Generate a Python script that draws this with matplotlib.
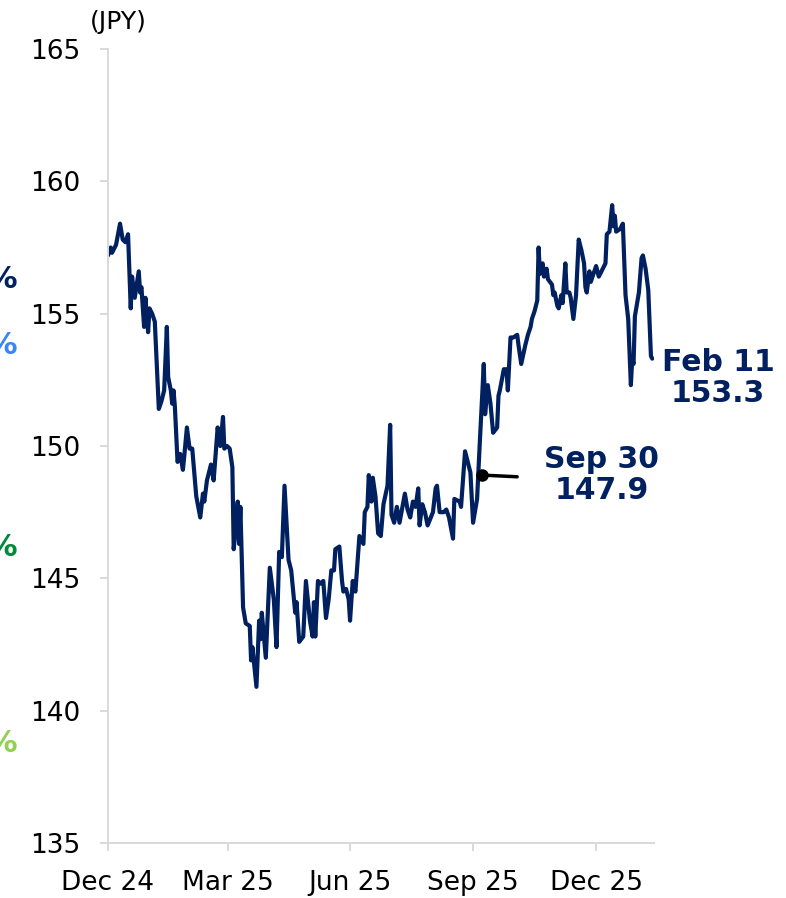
import pandas as pd
import matplotlib.pyplot as plt

# USD/JPY daily
dates = [
    "2024-12-31", "2025-01-02", "2025-01-03", "2025-01-06", "2025-01-09", "2025-01-11",
    "2025-01-13", "2025-01-15", "2025-01-17", "2025-01-18", "2025-01-19", "2025-01-20",
    "2025-01-23", "2025-01-24", "2025-01-25", "2025-01-27", "2025-01-28", "2025-01-29",
    "2025-01-30", "2025-01-31", "2025-02-02", "2025-02-04", "2025-02-07", "2025-02-09",
    "2025-02-11", "2025-02-13", "2025-02-14", "2025-02-16", "2025-02-17", "2025-02-18",
    "2025-02-19", "2025-02-21", "2025-02-23", "2025-02-25", "2025-02-26", "2025-02-28",
    "2025-03-02", "2025-03-04", "2025-03-07", "2025-03-10", "2025-03-12", "2025-03-13",
    "2025-03-15", "2025-03-18", "2025-03-20", "2025-03-23", "2025-03-25", "2025-03-27",
    "2025-03-28", "2025-03-30", "2025-04-01", "2025-04-03", "2025-04-04", "2025-04-06",
    "2025-04-07", "2025-04-08", "2025-04-09", "2025-04-11", "2025-04-13", "2025-04-16",
    "2025-04-17", "2025-04-18", "2025-04-21", "2025-04-23", "2025-04-24", "2025-04-25",
    "2025-04-28", "2025-05-01", "2025-05-04", "2025-05-06", "2025-05-08", "2025-05-10",
    "2025-05-12", "2025-05-15", "2025-05-17", "2025-05-20", "2025-05-21", "2025-05-23",
    "2025-05-26", "2025-05-28", "2025-05-31", "2025-06-02", "2025-06-03", "2025-06-04",
    "2025-06-06", "2025-06-08", "2025-06-10", "2025-06-12", "2025-06-14", "2025-06-16",
    "2025-06-18", "2025-06-19", "2025-06-22", "2025-06-24", "2025-06-25", "2025-06-27",
    "2025-06-29", "2025-06-30", "2025-07-02", "2025-07-04", "2025-07-07", "2025-07-10",
    "2025-07-11", "2025-07-13", "2025-07-14", "2025-07-16", "2025-07-17", "2025-07-19",
    "2025-07-21", "2025-07-23", "2025-07-25", "2025-07-28", "2025-07-30", "2025-07-31",
    "2025-08-02", "2025-08-04", "2025-08-06", "2025-08-10", "2025-08-12", "2025-08-14",
    "2025-08-16", "2025-08-18", "2025-08-20", "2025-08-21", "2025-08-23", "2025-08-25",
    "2025-08-27", "2025-08-31", "2025-09-02", "2025-09-03", "2025-09-05", "2025-09-08",
    "2025-09-10", "2025-09-12", "2025-09-15", "2025-09-16", "2025-09-20", "2025-09-21",
    "2025-09-24", "2025-09-28", "2025-09-30", "2025-10-03", "2025-10-05", "2025-10-08",
    "2025-10-09", "2025-10-11", "2025-10-13", "2025-10-15", "2025-10-18", "2025-10-19",
    "2025-10-20", "2025-10-23", "2025-10-25", "2025-10-26", "2025-10-28", "2025-10-30",
    "2025-11-02", "2025-11-03", "2025-11-05", "2025-11-08", "2025-11-10", "2025-11-12",
    "2025-11-13", "2025-11-15", "2025-11-17", "2025-11-18", "2025-11-19", "2025-11-21",
    "2025-11-22", "2025-11-24", "2025-11-25", "2025-11-28", "2025-11-29", "2025-11-30",
    "2025-12-02", "2025-12-03", "2025-12-05", "2025-12-06", "2025-12-08", "2025-12-09",
    "2025-12-11", "2025-12-12", "2025-12-14", "2025-12-16", "2025-12-18", "2025-12-20",
    "2025-12-22", "2025-12-23", "2025-12-24", "2025-12-26", "2025-12-27", "2025-12-29",
    "2025-12-31", "2026-01-02", "2026-01-05", "2026-01-07", "2026-01-08", "2026-01-10",
    "2026-01-12", "2026-01-13", "2026-01-14", "2026-01-15", "2026-01-18", "2026-01-20",
    "2026-01-22", "2026-01-24", "2026-01-26", "2026-01-27", "2026-01-28", "2026-01-29",
    "2026-02-01", "2026-02-03", "2026-02-04", "2026-02-06", "2026-02-08", "2026-02-10",
    "2026-02-11",
]
usdjpy = [
    157.2, 157.5, 157.3, 157.6, 158.4, 157.8,
    157.7, 158.0, 155.2, 156.4, 156.0, 155.6,
    156.6, 155.8, 156.0, 154.5, 155.6, 154.9,
    154.3, 155.2, 155.0, 154.7, 151.4, 151.7,
    152.1, 154.5, 152.6, 152.1, 151.6, 152.1,
    151.5, 149.4, 149.7, 149.1, 149.6, 150.7,
    149.9, 149.9, 148.1, 147.3, 148.2, 147.9,
    148.7, 149.3, 148.7, 150.7, 150.0, 151.1,
    149.9, 150.0, 149.9, 149.2, 146.1, 147.2,
    147.9, 146.3, 147.7, 143.9, 143.3, 143.2,
    141.9, 142.4, 140.9, 143.4, 142.7, 143.7,
    142.0, 145.4, 144.2, 142.4, 146.0, 145.8,
    148.5, 145.7, 145.3, 143.7, 144.1, 142.6,
    142.8, 144.9, 143.4, 142.8, 144.1, 142.8,
    144.9, 144.8, 144.9, 143.5, 144.2, 145.3,
    145.3, 146.1, 146.2, 144.9, 144.5, 144.6,
    144.2, 143.4, 144.9, 144.5, 146.6, 146.3,
    147.5, 147.7, 148.9, 147.9, 148.8, 148.1,
    146.7, 146.6, 147.8, 148.5, 150.8, 147.4,
    147.1, 147.7, 147.1, 148.2, 147.6, 147.3,
    147.9, 147.7, 148.4, 147.0, 147.8, 147.5,
    147.0, 147.5, 148.4, 148.5, 147.5, 147.5,
    147.6, 147.3, 146.5, 148.0, 147.9, 147.7,
    149.8, 149.0, 147.1, 148.0, 150.1, 153.1,
    151.2, 152.3, 151.6, 150.5, 150.7, 151.9,
    152.1, 152.9, 152.9, 152.1, 154.1, 154.1,
    154.2, 153.8, 153.1, 153.8, 154.2, 154.5,
    154.8, 155.1, 155.5, 157.5, 156.5, 156.9,
    156.4, 156.7, 156.3, 156.1, 155.7, 155.8,
    155.3, 155.2, 155.7, 155.4, 156.9, 155.8,
    155.8, 155.6, 154.8, 155.7, 157.8, 157.4,
    156.9, 156.0, 155.8, 156.6, 156.2, 156.5,
    156.8, 156.4, 156.7, 156.9, 158.0, 158.1,
    159.1, 158.3, 158.7, 158.1, 158.2, 158.4,
    155.7, 154.8, 152.3, 153.3, 153.1, 154.9,
    155.8, 157.1, 157.2, 156.7, 155.9, 153.4,
    153.3,
]

tick_dates = ["2024-12-31", "2025-03-31", "2025-06-30", "2025-09-30", "2025-12-31"]
tick_labels = ["Dec 24", "Mar 25", "Jun 25", "Sep 25", "Dec 25"]

# callouts
sep_label = "Sep 30\n147.9"
sep_dot = ("2025-10-07", 148.9)
last_label = "Feb 11\n153.3"

# cut-off legend marks at the left edge
pct_colors = ["#002060", "#3d85f7", "#008a3a", "#92d050"]
pct_y = [280, 346, 547, 743]

navy = "#002060"
grey = "#d9d9d9"

x = pd.to_datetime(dates)

fig = plt.figure(figsize=(7.86, 8.98), dpi=100)
ax = fig.add_axes([108 / 786, 1 - 843 / 898, (654 - 108) / 786, (843 - 49) / 898])

ax.plot(x, usdjpy, color=navy, lw=3.0, solid_joinstyle="round", solid_capstyle="round")

ax.set_ylim(135, 165)
ax.set_yticks(range(135, 166, 5))
ax.set_xlim(pd.Timestamp("2024-12-31"), pd.Timestamp("2026-02-12 07:00"))
ax.set_xticks(pd.to_datetime(tick_dates))
ax.set_xticklabels(tick_labels)

for s in ["top", "right"]:
    ax.spines[s].set_visible(False)
for s in ["left", "bottom"]:
    ax.spines[s].set_color(grey)
    ax.spines[s].set_linewidth(1.4)
ax.tick_params(axis="both", length=5.8, width=1.4, color=grey, labelsize=19)
ax.tick_params(axis="y", pad=14)
ax.tick_params(axis="x", pad=14)

fig.text(90 / 786, 1 - 22 / 898, "(JPY)", fontsize=18, va="center", ha="left")

# Sep 30 marker and label
dot_x = pd.Timestamp(sep_dot[0])
ax.plot([dot_x], [sep_dot[1]], "o", color="black", ms=8, zorder=5)
ax.annotate("", xy=(dot_x, sep_dot[1]), xytext=(25, -1.2), textcoords="offset points",
            arrowprops=dict(arrowstyle="-", color="black", lw=2.5, shrinkA=0, shrinkB=0))
ax.annotate(sep_label, xy=(dot_x, sep_dot[1]), xytext=(86, 0), textcoords="offset points",
            ha="center", va="center", fontsize=21.5, fontweight="bold", color=navy,
            linespacing=1.1)

# last value label
ax.annotate(last_label, xy=(x[-1], usdjpy[-1]), xytext=(47.5, -14), textcoords="offset points",
            ha="center", va="center", fontsize=21.5, fontweight="bold", color=navy,
            linespacing=1.1, annotation_clip=False)

for c, yy in zip(pct_colors, pct_y):
    fig.text(18 / 786, 1 - yy / 898, "%", color=c, fontsize=22, fontweight="bold",
             ha="right", va="center")

fig.savefig("out.png", dpi=100)
